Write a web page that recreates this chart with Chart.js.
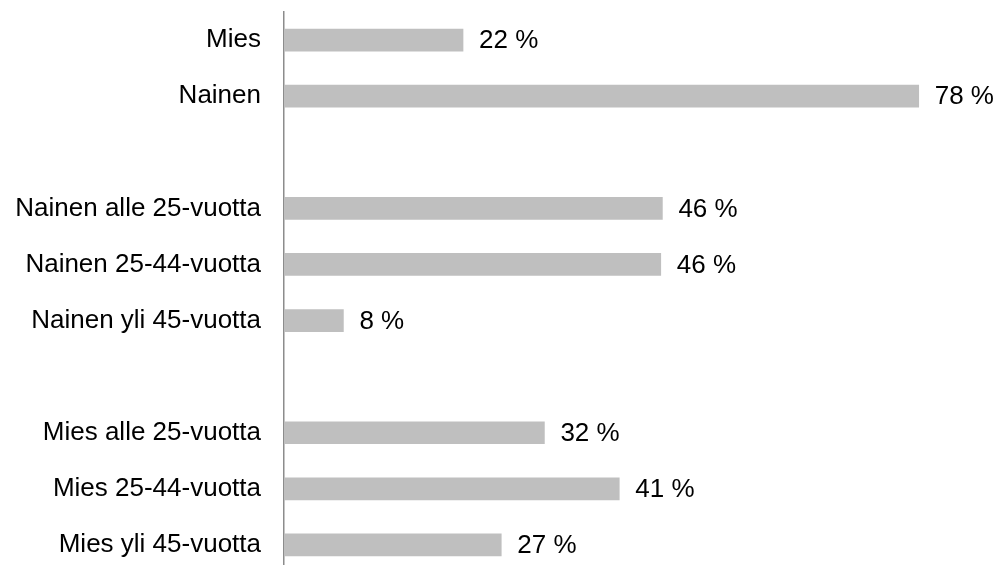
<!DOCTYPE html>
<html>
<head>
<meta charset="utf-8">
<script src="https://cdn.jsdelivr.net/npm/chart.js@4/dist/chart.umd.min.js"></script>
<style>
  html, body { margin: 0; padding: 0; background: #fff; overflow: hidden; }
  #wrap { width: 997px; height: 575px; }
</style>
</head>
<body>
<div id="wrap"><canvas id="myChart" width="997" height="575"></canvas></div>
<script>
// categories (empty strings are the gaps between groups)
const categories = ["Mies", "Nainen", "", "Nainen alle 25-vuotta", "Nainen 25-44-vuotta",
  "Nainen yli 45-vuotta", "", "Mies alle 25-vuotta", "Mies 25-44-vuotta", "Mies yli 45-vuotta"];
// bar lengths
const shares = [22, 78, null, 46.5, 46.3, 7.3, null, 32, 41.2, 26.7];
// the printed labels next to the bars
const shareLabels = ["22 %", "78 %", "", "46 %", "46 %", "8 %", "", "32 %", "41 %", "27 %"];

const FONT = "Liberation Sans, Arial, sans-serif";

// draws the "xx %" text to the right of each bar
const valueLabels = {
  id: "valueLabels",
  afterDatasetsDraw(chart) {
    const ctx = chart.ctx;
    const meta = chart.getDatasetMeta(0);
    ctx.save();
    ctx.font = "26px " + FONT;
    ctx.fillStyle = "#000";
    ctx.textAlign = "left";
    ctx.textBaseline = "middle";
    meta.data.forEach((bar, i) => {
      if (shares[i] == null) return;
      ctx.fillText(shareLabels[i], bar.x + 16, bar.y + 1);
    });
    ctx.restore();
  }
};

const myChart = new Chart(document.getElementById("myChart"), {
  type: "bar",
  data: {
    labels: categories,
    datasets: [{
      data: shares,
      backgroundColor: "#bfbfbf",
      borderWidth: 0,
      barThickness: 22
    }]
  },
  options: {
    indexAxis: "y",
    responsive: false,
    animation: false,
    layout: { padding: { top: 12, right: 62, bottom: 2, left: 0 } },
    plugins: {
      legend: { display: false },
      tooltip: { enabled: false }
    },
    scales: {
      x: {
        display: false,
        min: 0,
        max: 80
      },
      y: {
        grid: { display: false, drawTicks: false },
        border: { display: true, color: "#8c8c8c", width: 1.5 },
        ticks: {
          color: "#000",
          font: { family: FONT, size: 26 },
          padding: 23
        },
        afterFit(scale) {
          scale.width = 284;
          // no extra room for the first/last label, bands fill the full height
          scale.paddingTop = 0;
          scale.paddingBottom = 0;
        }
      }
    }
  },
  plugins: [valueLabels]
});
</script>
</body>
</html>
